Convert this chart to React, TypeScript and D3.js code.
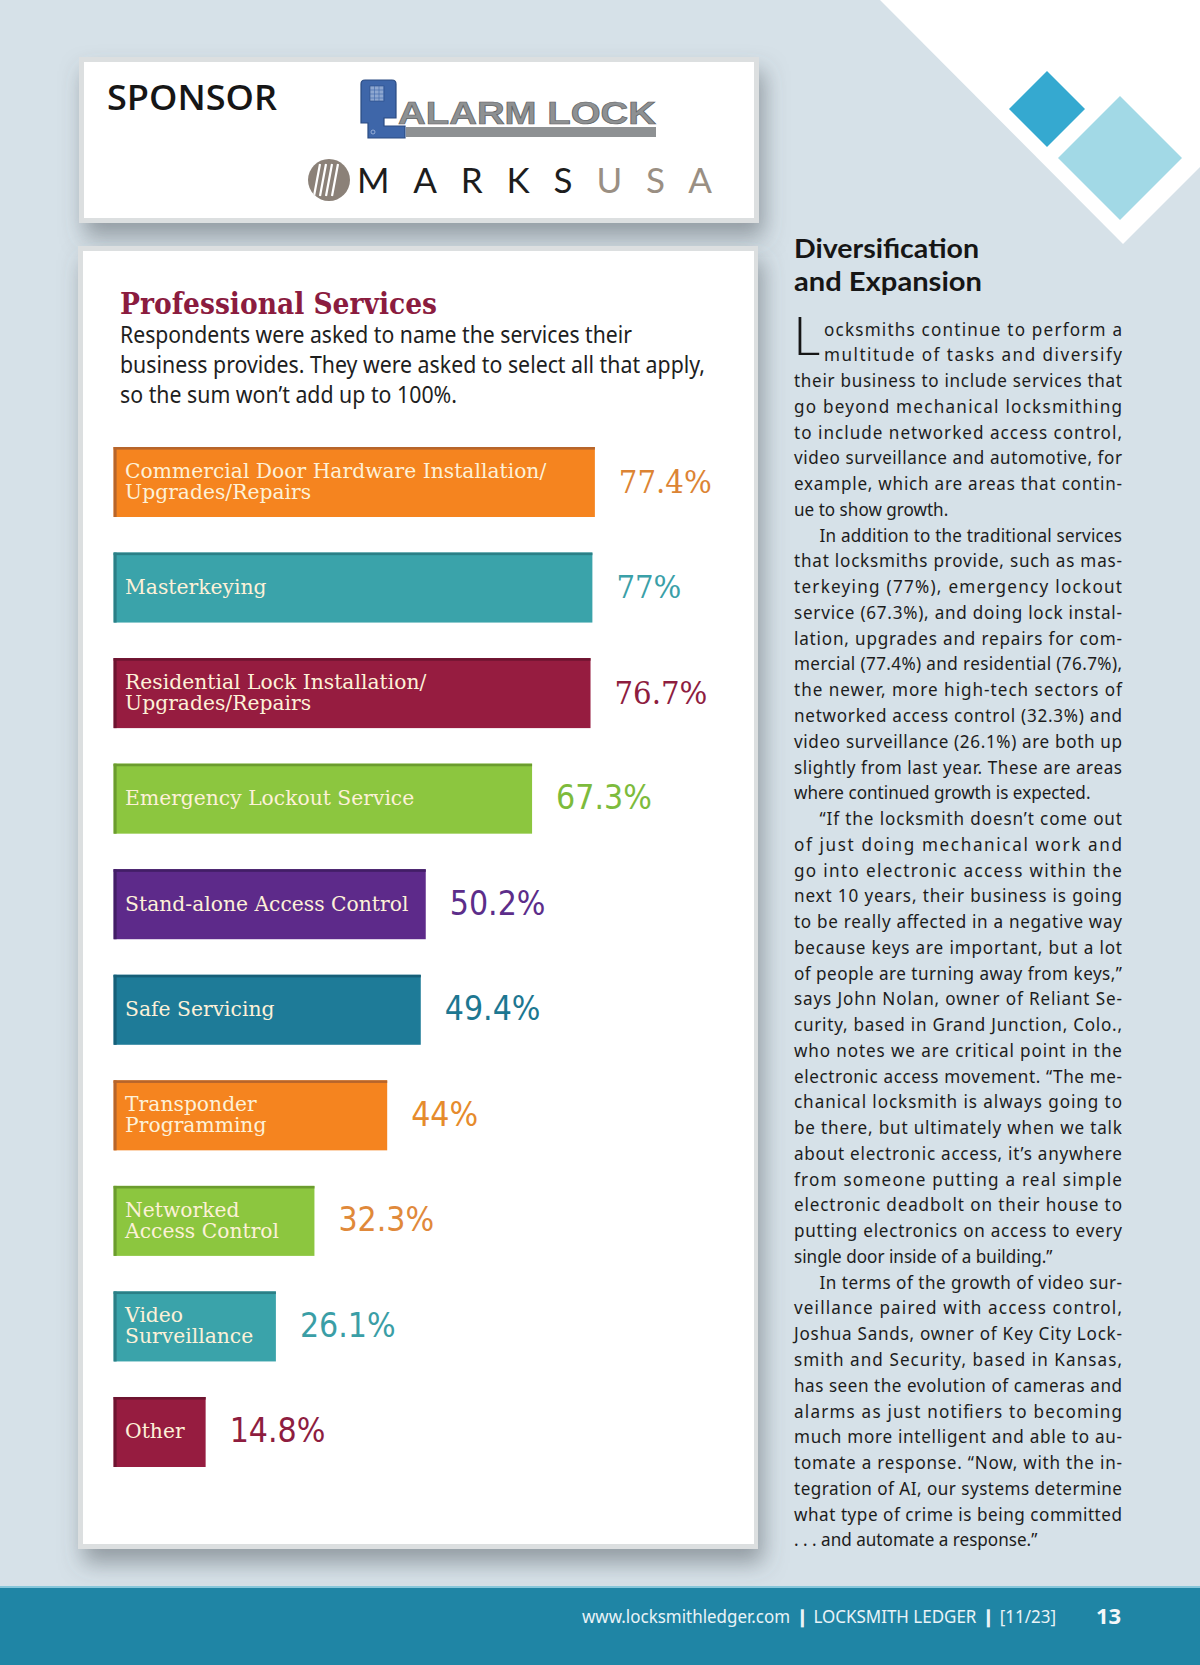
import React from 'react';
import * as d3 from 'd3';

// ---------- DATA ----------
const categories = [
  'Commercial Door Hardware Installation/\nUpgrades/Repairs',
  'Masterkeying',
  'Residential Lock Installation/\nUpgrades/Repairs',
  'Emergency Lockout Service',
  'Stand-alone Access Control',
  'Safe Servicing',
  'Transponder\nProgramming',
  'Networked\nAccess Control',
  'Video\nSurveillance',
  'Other',
];
const values = [77.4, 77, 76.7, 67.3, 50.2, 49.4, 44, 32.3, 26.1, 14.8];

const chartTitle = 'Professional Services';
const chartSubtitle = [
  'Respondents were asked to name the services their',
  'business provides. They were asked to select all that apply,',
  'so the sum won\u2019t add up to 100%.',
];

const articleHeading = ['Diversification', 'and Expansion'];
const articleParagraphs = [
  [
    'ocksmiths continue to perform a',
    'multitude of tasks and diversify',
    'their business to include services that',
    'go beyond mechanical locksmithing',
    'to include networked access control,',
    'video surveillance and automotive, for',
    'example, which are areas that contin-',
    'ue to show growth.',
  ],
  [
    'In addition to the traditional services',
    'that locksmiths provide, such as mas-',
    'terkeying (77%), emergency lockout',
    'service (67.3%), and doing lock instal-',
    'lation, upgrades and repairs for com-',
    'mercial (77.4%) and residential (76.7%),',
    'the newer, more high-tech sectors of',
    'networked access control (32.3%) and',
    'video surveillance (26.1%) are both up',
    'slightly from last year. These are areas',
    'where continued growth is expected.',
  ],
  [
    '\u201cIf the locksmith doesn\u2019t come out',
    'of just doing mechanical work and',
    'go into electronic access within the',
    'next 10 years, their business is going',
    'to be really affected in a negative way',
    'because keys are important, but a lot',
    'of people are turning away from keys,\u201d',
    'says John Nolan, owner of Reliant Se-',
    'curity, based in Grand Junction, Colo.,',
    'who notes we are critical point in the',
    'electronic access movement. \u201cThe me-',
    'chanical locksmith is always going to',
    'be there, but ultimately when we talk',
    'about electronic access, it\u2019s anywhere',
    'from someone putting a real simple',
    'electronic deadbolt on their house to',
    'putting electronics on access to every',
    'single door inside of a building.\u201d',
  ],
  [
    'In terms of the growth of video sur-',
    'veillance paired with access control,',
    'Joshua Sands, owner of Key City Lock-',
    'smith and Security, based in Kansas,',
    'has seen the evolution of cameras and',
    'alarms as just notifiers to becoming',
    'much more intelligent and able to au-',
    'tomate a response. \u201cNow, with the in-',
    'tegration of AI, our systems determine',
    'what type of crime is being committed',
    '. . . and automate a response.\u201d',
  ],
];
const dropCap = 'L';
const footerText = 'www.locksmithledger.com \u2759 LOCKSMITH LEDGER \u2759 [11/23]';
const pageNumber = '13';

// ---------- STYLE ----------
const barFill = ['#f5841f', '#3aa3aa', '#961c40', '#8cc63f', '#5d2a8a', '#1e7b98', '#f5841f', '#8cc63f', '#3aa3aa', '#961c40'];
const barEdge = ['#b7652b', '#2b7f86', '#6d1430', '#6b9c2e', '#421e66', '#165f78', '#b7652b', '#6b9c2e', '#2b7f86', '#6d1430'];
const valueColor = ['#dc8434', '#3aa0a8', '#8e1d3f', '#7dbb3c', '#5c2d8a', '#1d7791', '#e68b2c', '#e0893a', '#3a9ea6', '#8e1d3f'];
const valueGroup = [0, 0, 0, 1, 1, 1, 1, 1, 1, 1];

const BG = '#d6e1e8';
const W = 1200;
const H = 1665;

export default function App() {
  const x0 = 113.6;
  const x = d3.scaleLinear().domain([0, 100]).range([0, 621.8]);
  const y = d3
    .scaleBand<number>()
    .domain(d3.range(values.length))
    .range([447, 1467])
    .paddingInner(0.3368)
    .paddingOuter(0);
  const bw = y.bandwidth();

  const bodyX = 794;
  const bodyRight = 1122;
  const lineH = 25.76;
  const firstBase = 335.6;
  const sx = 0.92;

  const bodyLines: { t: string; x: number; justify: boolean; y: number }[] = [];
  let li = 0;
  articleParagraphs.forEach((p, pi) => {
    p.forEach((t, i) => {
      let lx = bodyX;
      if (pi === 0 && i < 2) lx = 824;
      else if (pi > 0 && i === 0) lx = bodyX + 25.5;
      bodyLines.push({ t, x: lx, justify: i < p.length - 1, y: firstBase + li * lineH });
      li++;
    });
  });

  const serifCond = "'DejaVu Serif Condensed', 'DejaVu Serif', serif";
  const serif = "'DejaVu Serif', serif";
  const sansCond = "'DejaVu Sans Condensed', 'DejaVu Sans', sans-serif";
  const body = "'Noto Sans', 'Open Sans', sans-serif";

  return (
    <svg
      width={W}
      height={H}
      viewBox={`0 0 ${W} ${H}`}
      style={{ position: 'absolute', left: 0, top: 0, display: 'block' }}
    >
      <defs>
        <filter id="shadow" x="-10%" y="-10%" width="125%" height="130%">
          <feDropShadow dx="5" dy="14" stdDeviation="11" floodColor="#4d555c" floodOpacity="0.5" />
        </filter>
        <clipPath id="mcirc">
          <circle cx={329} cy={180} r={21} />
        </clipPath>
      </defs>

      {/* background */}
      <rect x={0} y={0} width={W} height={H} fill={BG} />
      <polygon points="880,0 1200,0 1200,167 1123,244" fill="#ffffff" />
      <polygon points="1047,71 1085,109 1047,147 1009,109" fill="#35a9d0" />
      <polygon points="1120,96 1182,158 1120,220 1058,158" fill="#a2d9e6" />

      {/* sponsor box */}
      <rect x={79} y={57} width={680} height={166} fill="#dcdfe0" filter="url(#shadow)" />
      <rect x={84} y={62} width={670} height={156} fill="#ffffff" />
      <text
        x={107}
        y={110}
        fontFamily="'Open Sans', 'Noto Sans', sans-serif"
        fontWeight={600}
        fontSize={35}
        textLength={170}
        lengthAdjust="spacingAndGlyphs"
        fill="#161616"
      >
        SPONSOR
      </text>
      {/* Alarm Lock logo */}
      <path
        d="M361,84 Q361,80 365,80 L392,80 Q396,80 396,84 L396,118 L384,118 L384,126 L405,126 L405,138 L368,138 L368,123 L361,123 Z"
        fill="#3e66a9"
        stroke="#2a4b82"
        strokeWidth={1.2}
      />
      <rect x={370} y={86} width={14} height={15} fill="#8ea7d0" stroke="#2a4b82" strokeWidth={0.6} />
      {[0, 1, 2].map((i) => (
        <line key={'kv' + i} x1={374.5 + i * 4.5} x2={374.5 + i * 4.5} y1={86} y2={101} stroke="#3e66a9" strokeWidth={0.6} />
      ))}
      {[0, 1, 2].map((i) => (
        <line key={'kh' + i} x1={370} x2={384} y1={90 + i * 4} y2={90 + i * 4} stroke="#3e66a9" strokeWidth={0.6} />
      ))}
      <circle cx={373} cy={132} r={2} fill="none" stroke="#a9bde0" strokeWidth={0.8} />
      <text
        x={398}
        y={124}
        fontFamily="'Liberation Sans', Arial, sans-serif"
        fontWeight={700}
        fontSize={31}
        textLength={258}
        lengthAdjust="spacingAndGlyphs"
        fill="#8e9193"
        stroke="#5f6264"
        strokeWidth={0.7}
      >
        ALARM LOCK
      </text>
      <rect x={406} y={127} width={250} height={10} fill="#8e9193" />

      {/* Marks USA logo */}
      <circle cx={329} cy={180} r={21} fill="#8b8178" />
      <g clipPath="url(#mcirc)" stroke="#ffffff" strokeWidth={2.2}>
        {[0, 1, 2, 3].map((i) => (
          <line key={'ms' + i} x1={314 + i * 6} y1={196} x2={320 + i * 6} y2={164} />
        ))}
      </g>
      <text
        x={357}
        y={193}
        fontFamily="Lato, 'Noto Sans', sans-serif"
        fontWeight={400}
        fontSize={35}
        textLength={355}
        lengthAdjust="spacing"
      >
        <tspan fill="#1d1d1d">MARKS</tspan>
        <tspan fill="#9a8f83">USA</tspan>
      </text>

      {/* chart box */}
      <rect x={78} y={246} width={680} height={1303} fill="#dcdfe0" filter="url(#shadow)" />
      <rect x={83} y={251} width={671} height={1293} fill="#ffffff" />

      <text
        x={120}
        y={314}
        fontFamily={serif}
        fontWeight={700}
        fontSize={30}
        textLength={317}
        lengthAdjust="spacingAndGlyphs"
        fill="#8b1c3f"
      >
        {chartTitle}
      </text>
      {chartSubtitle.map((t, i) => (
        <text
          key={'sub' + i}
          x={120}
          y={343 + i * 30}
          fontFamily={body}
          fontSize={23}
          textLength={[512, 585, 337][i]}
          lengthAdjust="spacingAndGlyphs"
          fill="#1e1e1e"
        >
          {t}
        </text>
      ))}

      {/* bars */}
      {values.map((v, i) => {
        const by = y(i) as number;
        const w = x(v);
        const lines = categories[i].split('\n');
        const g = valueGroup[i];
        const fs = 20.3;
        const lh = 21;
        const cap = fs * 0.73;
        const cy = by + bw / 2;
        const firstBaseline = cy - 1 - ((lines.length - 1) * lh) / 2 + cap / 2;
        return (
          <g key={'bar' + i}>
            <rect x={x0} y={by} width={w} height={bw} fill={barFill[i]} />
            <rect x={x0} y={by} width={w} height={2.6} fill={barEdge[i]} />
            <rect x={x0} y={by} width={3} height={bw} fill={barEdge[i]} />
            <text fontFamily={serif} fontSize={fs} fill="#fdf1d8">
              {lines.map((l, k) => (
                <tspan key={k} x={x0 + 11.5} y={firstBaseline + k * lh}>
                  {l}
                </tspan>
              ))}
            </text>
            <text
              x={x0 + w + 24}
              y={cy + 10.5}
              fontFamily={g === 0 ? serifCond : sansCond}
              fontSize={g === 0 ? 32.5 : 33.5}
              fill={valueColor[i]}
              style={{ fontStretch: 'condensed' }}
            >
              {`${v}%`}
            </text>
          </g>
        );
      })}

      {/* article column */}
      <text fontFamily="Lato, 'Noto Sans', sans-serif" fontWeight={700} fontSize={27.5} fill="#161616">
        {articleHeading.map((t, i) => (
          <tspan key={'h' + i} x={794} y={258 + i * 33} textLength={[185, 188][i]} lengthAdjust="spacingAndGlyphs">
            {t}
          </tspan>
        ))}
      </text>
      <text
        x={793}
        y={355}
        fontFamily="Lato, 'Noto Sans', sans-serif"
        fontWeight={300}
        fontSize={54}
        textLength={27}
        lengthAdjust="spacingAndGlyphs"
        fill="#161616"
      >
        {dropCap}
      </text>
      <g transform={`scale(${sx},1)`}>
        {bodyLines.map((l, i) => (
          <text
            key={'b' + i}
            x={l.x / sx}
            y={l.y}
            fontFamily={body}
            fontSize={18.6}
            fill="#1c1c1c"
            textLength={l.justify ? (bodyRight - l.x) / sx : undefined}
            lengthAdjust={l.justify ? 'spacing' : undefined}
          >
            {l.t}
          </text>
        ))}
      </g>

      {/* footer */}
      <rect x={0} y={1587} width={W} height={78} fill="#1f85a5" />
      <rect x={0} y={1586} width={W} height={2} fill="#86c6da" />
      <text
        x={582}
        y={1623}
        fontFamily={body}
        fontSize={17.5}
        textLength={474}
        lengthAdjust="spacingAndGlyphs"
        fill="#e9f3f7"
      >
        {footerText}
      </text>
      <text x={1096} y={1624} fontFamily={body} fontWeight={700} fontSize={22} fill="#f4f8fa">
        {pageNumber}
      </text>
    </svg>
  );
}
